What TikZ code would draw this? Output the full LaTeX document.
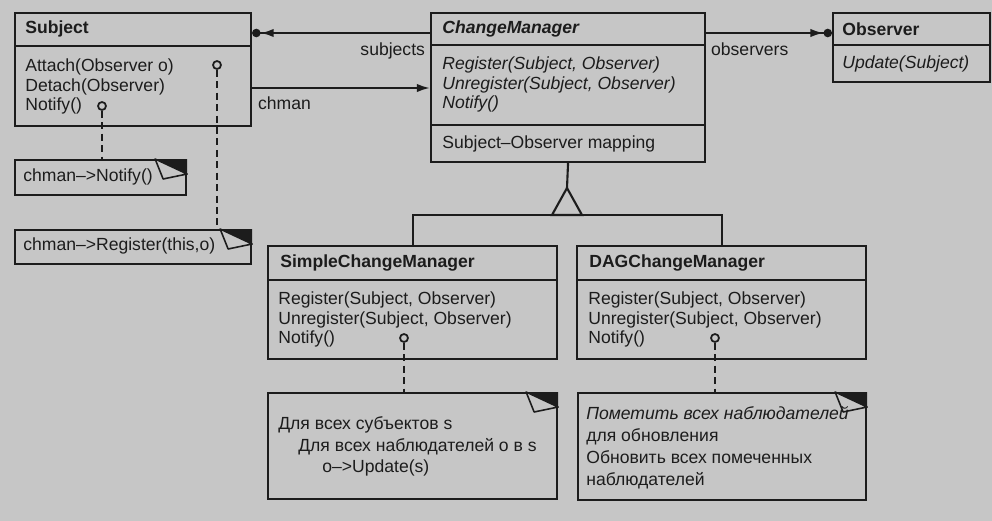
\documentclass[tikz,border=0pt]{standalone}
\usepackage{fontspec}
\setmainfont{Liberation Sans}
\usepackage{tikz}
\usetikzlibrary{positioning,arrows.meta,calc}
\definecolor{scan}{RGB}{198,198,198}
\definecolor{ink}{RGB}{28,28,28}
\newlength\pxu
\setlength\pxu{0.02cm}
\newcommand{\notefold}[1]{%
  \fill[ink] ([xshift=-32\pxu]#1.north east) -- (#1.north east) -- ([yshift=-15\pxu]#1.north east) -- cycle;
  \filldraw[fill=scan,draw=ink,line width=0.9pt,line join=round] ([xshift=-32\pxu]#1.north east) -- ([xshift=-24\pxu,yshift=-20\pxu]#1.north east) -- ([yshift=-15\pxu]#1.north east) -- cycle;}
\tikzset{
  classbox/.style={rectangle,draw=ink,line width=1.2pt,fill=scan,inner sep=0pt,anchor=north west},
  notebox/.style={rectangle,draw=ink,line width=1.2pt,fill=scan,inner sep=0pt,anchor=north west},
  divider/.style={draw=ink,line width=1.2pt},
  ctitle/.style={font=\fontsize{10}{11.2}\selectfont\bfseries,inner sep=0pt,anchor=west},
  ctitleit/.style={ctitle,font=\fontsize{10}{11.2}\selectfont\bfseries\itshape},
  cops/.style={font=\fontsize{10}{11.2}\selectfont,inner sep=0pt,anchor=north west,align=left},
  copsit/.style={cops,font=\fontsize{10}{11.2}\selectfont\itshape},
  notetext/.style={font=\fontsize{10}{12.4}\selectfont,inner sep=0pt,anchor=north west,align=left},
  pin/.style={circle,draw=ink,line width=1pt,fill=scan,minimum size=8\pxu,inner sep=0pt},
  assoc/.style={draw=ink,line width=1.2pt,-{Latex[length=7.5pt,width=4.8pt] Circle[length=4.8pt]}},
  navig/.style={draw=ink,line width=1.2pt,-{Latex[length=7.5pt,width=4.8pt]}},
  notelink/.style={draw=ink,line width=1.2pt,dash pattern=on 4pt off 2.5pt},
  lbl/.style={font=\fontsize{10}{11.2}\selectfont,inner sep=0pt}
}

\begin{document}
\begin{tikzpicture}[x=0.02cm,y=-0.02cm,text=ink]
  \fill[scan] (0,0) rectangle (992,521);
  \useasboundingbox (0,0) rectangle (992,521);

  \node[classbox,minimum width=236\pxu,minimum height=113\pxu] (subject) at (14,12) {};
  \draw[divider] (14,46) -- (250,46);
  \node[ctitle] (subjectname) at (25,29) {Subject};
  \node[cops] (subjectops) at (25,58.5) {Attach(Observer o)\\Detach(Observer)\\Notify()};
  \node[pin] (attachpin) at (217,65) {};
  \node[pin] (notifypin) at (102,106) {};

  \node[classbox,minimum width=274\pxu,minimum height=149\pxu] (manager) at (430,12) {};
  \draw[divider] (430,45) -- (704,45);
  \draw[divider] (430,125) -- (704,125);
  \node[ctitleit] (managername) at (442,29) {ChangeManager};
  \node[copsit] (managerops) at (442,56.5) {Register(Subject, Observer)\\Unregister(Subject, Observer)\\Notify()};
  \node[cops] (mapping) at (442,135.5) {Subject–Observer mapping};

  \node[classbox,minimum width=157\pxu,minimum height=69\pxu] (observer) at (832,12) {};
  \draw[divider] (832,45) -- (989,45);
  \node[ctitle] (observername) at (842,29) {Observer};
  \node[copsit] (observerops) at (842,55.5) {Update(Subject)};

  \node[classbox,minimum width=289\pxu,minimum height=113\pxu] (simple) at (267,245) {};
  \draw[divider] (267,280) -- (556,280);
  \node[ctitle] (simplename) at (280,263) {SimpleChangeManager};
  \node[cops] (simpleops) at (278,291.5) {Register(Subject, Observer)\\Unregister(Subject, Observer)\\Notify()};
  \node[pin] (simplepin) at (404,338) {};

  \node[classbox,minimum width=289\pxu,minimum height=113\pxu] (dag) at (576,245) {};
  \draw[divider] (576,280) -- (865,280);
  \node[ctitle] (dagname) at (589,263) {DAGChangeManager};
  \node[cops] (dagops) at (588,291.5) {Register(Subject, Observer)\\Unregister(Subject, Observer)\\Notify()};
  \node[pin] (dagpin) at (715,338) {};

  \node[notebox,minimum width=171\pxu,minimum height=35\pxu] (notifynote) at (14,159) {};
  \notefold{notifynote}
  \node[lbl,anchor=west] (notifycode) at (23,177) {chman–>Notify()};
  \node[notebox,minimum width=236\pxu,minimum height=34\pxu] (registernote) at (14,229) {};
  \notefold{registernote}
  \node[lbl,anchor=west] (registercode) at (23,246) {chman–>Register(this,o)};

  \node[notebox,minimum width=289\pxu,minimum height=106\pxu] (simplenote) at (267,392) {};
  \notefold{simplenote}
  \node[notetext] (simplecode) at (278,416) {Для всех субъектов s\\\hspace*{20\pxu}Для всех наблюдателей o в s\\\hspace*{44\pxu}o–>Update(s)};
  \node[notebox,minimum width=288\pxu,minimum height=107\pxu] (dagnote) at (577,392) {};
  \notefold{dagnote}
  \node[notetext] (dagcode) at (586,406.5) {{\itshape Пометить всех наблюдателей}\\для обновления\\Обновить всех помеченных\\наблюдателей};

  \draw[assoc] ([yshift=-21\pxu]manager.north west) -- node[lbl,pos=0,anchor=north east,xshift=-4\pxu,yshift=-9\pxu] {subjects} ([yshift=-21\pxu]subject.north east);
  \draw[navig] ([yshift=-76\pxu]subject.north east) -- node[lbl,pos=0,anchor=north west,xshift=5\pxu,yshift=-8\pxu] {chman} ([yshift=-76\pxu]manager.north west);
  \draw[assoc] ([yshift=-21\pxu]manager.north east) -- node[lbl,pos=0,anchor=north west,xshift=4\pxu,yshift=-9\pxu] {observers} ([yshift=-21\pxu]observer.north west);

  \coordinate (apex) at (567,188);
  \coordinate (fork) at (567,215);
  \draw[divider] (manager.south) -- (apex);
  \draw[divider,fill=scan,line join=miter] (apex) -- ++(-15,27) -- ++(30,0) -- cycle;
  \draw[divider] (simple.north) |- (fork) -| (dag.north);

  \draw[notelink] (notifypin.south) -- (notifypin.south |- notifynote.north);
  \draw[notelink] (attachpin.south) -- (attachpin.south |- registernote.north);
  \draw[notelink] (simplepin.south) -- (simplepin.south |- simplenote.north);
  \draw[notelink] (dagpin.south) -- (dagpin.south |- dagnote.north);
\end{tikzpicture}
\end{document}
